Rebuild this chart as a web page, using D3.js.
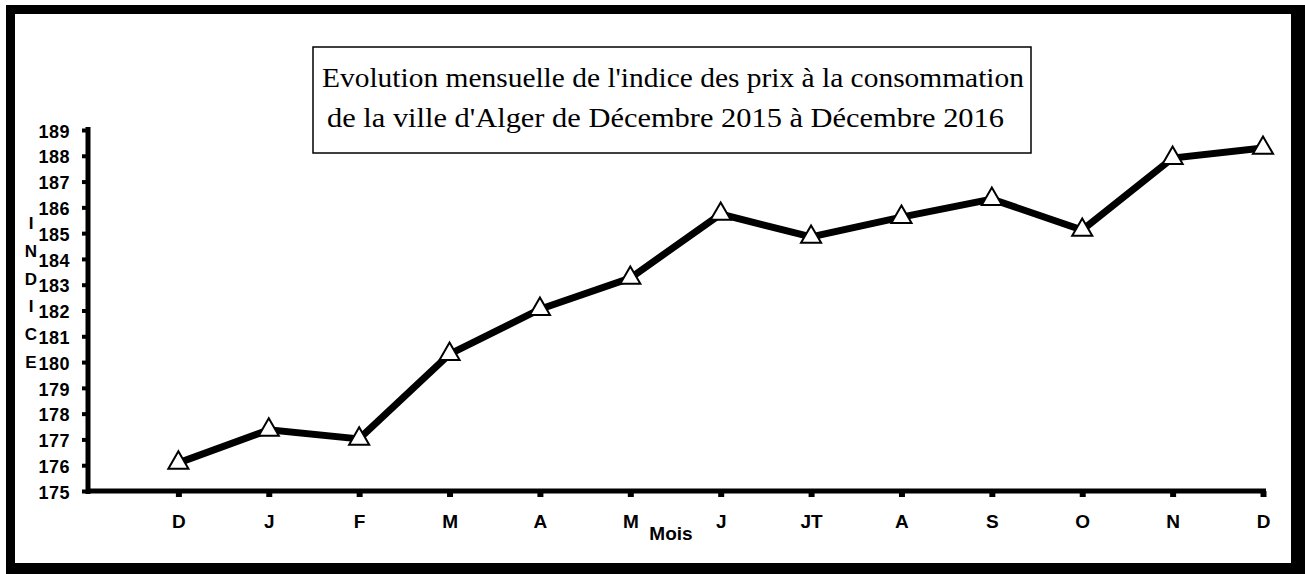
<!DOCTYPE html>
<html>
<head>
<meta charset="utf-8">
<script src="https://cdn.jsdelivr.net/npm/d3@7"></script>
<style>
  html, body { margin: 0; padding: 0; background: #fff; }
  svg { display: block; }
</style>
</head>
<body>
<svg id="chart" width="1305" height="574"></svg>
<script>
const months = ["D", "J", "F", "M", "A", "M", "J", "JT", "A", "S", "O", "N", "D"];
const values = [176.09, 177.37, 177.02, 180.31, 182.05, 183.26, 185.74, 184.85, 185.62, 186.32, 185.12, 187.91, 188.30];
const yTicks = [175, 176, 177, 178, 179, 180, 181, 182, 183, 184, 185, 186, 187, 188, 189];
const titleLines = ["Evolution mensuelle de l'indice des prix à la consommation", "de la ville d'Alger de Décembre 2015 à Décembre 2016"];
const yTitleLetters = ["I", "N", "D", "I", "C", "E"];
const xTitle = "Mois";

const svg = d3.select("#chart");

// outer frame
svg.append("rect").attr("x", 6).attr("y", 5).attr("width", 1299).attr("height", 569).attr("fill", "#000");
svg.append("rect").attr("x", 15).attr("y", 14).attr("width", 1276).attr("height", 549).attr("fill", "#fff");

const x = d3.scaleLinear().domain([-1, 12]).range([88, 1263]);
const y = d3.scaleLinear().domain([175, 189]).range([491, 130]);

const bold = "Liberation Sans, Arial, sans-serif";

// y title letters (stacked vertically, left of the tick labels)
svg.append("g").selectAll("text").data(yTitleLetters).join("text")
  .attr("x", 31).attr("y", (d, i) => 229 + i * 27.8)
  .attr("text-anchor", "middle")
  .attr("font-family", bold).attr("font-weight", "bold").attr("font-size", 17)
  .text(d => d);

// Y axis
const yAxis = svg.append("g").attr("transform", "translate(88,0)")
  .call(d3.axisLeft(y).tickValues(yTicks).tickSize(6).tickPadding(12).tickFormat(d3.format("d")));
yAxis.select(".domain").remove();
yAxis.selectAll(".tick line").attr("stroke", "#000").attr("stroke-width", 4);
yAxis.selectAll(".tick text")
  .attr("font-family", bold).attr("font-weight", "bold").attr("font-size", 18)
  .attr("letter-spacing", "0.5px")
  .attr("fill", "#000").attr("dy", "0.4em");
yAxis.selectAll(".tick").each(function() {
  const t = d3.select(this).select("text");
  const bb = t.node().getBBox();
  d3.select(this).insert("rect", "text")
    .attr("x", bb.x + 1).attr("y", bb.y + 4).attr("width", bb.width - 1).attr("height", bb.height - 6)
    .attr("fill", "#fff");
});
svg.append("line").attr("x1", 88).attr("x2", 88).attr("y1", 127).attr("y2", 494)
  .attr("stroke", "#000").attr("stroke-width", 5);

// X axis
const xAxis = svg.append("g").attr("transform", "translate(0,491)")
  .call(d3.axisBottom(x).tickValues(d3.range(0, 13)).tickSize(6).tickPadding(18)
    .tickFormat(i => months[i]));
xAxis.select(".domain").remove();
xAxis.selectAll(".tick line").attr("stroke", "#000").attr("stroke-width", 6);
xAxis.selectAll(".tick text")
  .attr("font-family", bold).attr("font-weight", "bold").attr("font-size", 19).attr("fill", "#000");
svg.append("line").attr("x1", 86).attr("x2", 1266).attr("y1", 491).attr("y2", 491)
  .attr("stroke", "#000").attr("stroke-width", 5);

svg.append("text").attr("x", 671).attr("y", 540).attr("text-anchor", "middle")
  .attr("font-family", bold).attr("font-weight", "bold").attr("font-size", 19).text(xTitle);

// line
const line = d3.line().x((d, i) => x(i)).y(d => y(d));
svg.append("path").datum(values).attr("d", line)
  .attr("fill", "none").attr("stroke", "#000").attr("stroke-width", 7).attr("stroke-linejoin", "miter");

// markers
const tri = d3.symbol().type(d3.symbolTriangle).size(175);
svg.append("g").selectAll("path").data(values).join("path")
  .attr("transform", (d, i) => `translate(${x(i)},${y(d)})`)
  .attr("d", tri).attr("fill", "#fff").attr("stroke", "#000").attr("stroke-width", 2);

// title box
svg.append("rect").attr("x", 313).attr("y", 47).attr("width", 718).attr("height", 106)
  .attr("fill", "#fff").attr("stroke", "#000").attr("stroke-width", 1.5);
const titleSpans = [[322, 702], [327, 677]];
svg.append("g").selectAll("text").data(titleLines).join("text")
  .attr("x", (d, i) => titleSpans[i][0])
  .attr("y", (d, i) => 87 + i * 40)
  .attr("textLength", (d, i) => titleSpans[i][1])
  .attr("lengthAdjust", "spacingAndGlyphs")
  .attr("font-family", "Liberation Serif, Times New Roman, serif")
  .attr("font-size", 27)
  .text(d => d);
</script>
</body>
</html>
